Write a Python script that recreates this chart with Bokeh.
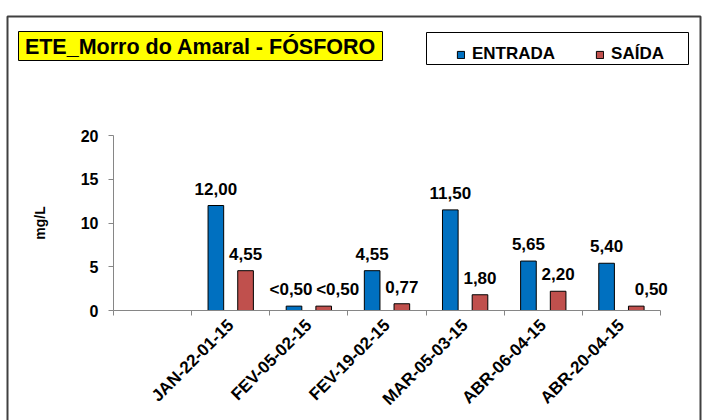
import math
from bokeh.plotting import figure
from bokeh.models import (ColumnDataSource, FixedTicker, Legend, LegendItem, Label,
                          BoxAnnotation, Range1d)
from bokeh.transform import dodge
from bokeh.core.properties import value
from bokeh.embed import file_html
from bokeh.resources import INLINE

# ---------------- data ----------------
categories = ["", "JAN-22-01-15", "FEV-05-02-15", "FEV-19-02-15",
              "MAR-05-03-15", "ABR-06-04-15", "ABR-20-04-15"]
entrada = [float("nan"), 12.00, 0.50, 4.55, 11.50, 5.65, 5.40]
saida = [float("nan"), 4.55, 0.50, 0.77, 1.80, 2.20, 0.50]
entrada_labels = ["", "12,00", "<0,50", "4,55", "11,50", "5,65", "5,40"]
saida_labels = ["", "4,55", "<0,50", "0,77", "1,80", "2,20", "0,50"]
y_ticks = [0, 5, 10, 15, 20]
y_min, y_max = 0, 20
series_names = ["ENTRADA", "SAÍDA"]
title_text = "ETE_Morro do Amaral - FÓSFORO"
y_label = "mg/L"

# ---------------- styles / layout ----------------
FONT = "Liberation Sans"
BLUE = "#0070C0"
RED = "#C0504D"
AXIS_GRAY = "#868686"
W, H = 704, 420
# pixel placement of the plotting area (axes drawn at fixed locations)
PX_LEFT, PX_RIGHT, PX_TOP, PX_BOTTOM = 113, 660, 135, 310
entrada_label_dx = [0, 0, -3, 0, 0, 0, 0]
saida_label_dx = [0, 0, 14, 0, 0, 0, 15]

n = len(categories)
x_lo, x_hi = -0.5, n - 0.5
ppx = (PX_RIGHT - PX_LEFT) / (x_hi - x_lo)
ppy = (PX_BOTTOM - PX_TOP) / (y_max - y_min)
x_range = Range1d(x_lo - PX_LEFT / ppx, x_hi + (W - PX_RIGHT) / ppx)
y_range = Range1d(y_min - (H - PX_BOTTOM) / ppy, y_max + PX_TOP / ppy)

idx = list(range(n))
src = ColumnDataSource(dict(x=idx, entrada=entrada, saida=saida,
                            elab=entrada_labels, slab=saida_labels,
                            edx=entrada_label_dx, sdx=saida_label_dx))

p = figure(width=W, height=H, output_backend="svg", toolbar_location=None,
           x_range=x_range, y_range=y_range, title=None,
           min_border_left=0, min_border_right=0, min_border_top=0,
           min_border_bottom=0)
p.outline_line_color = None
p.grid.visible = False
p.background_fill_color = "white"
p.border_fill_color = "white"

def canvas_box(**kw):
    return BoxAnnotation(left_units="canvas", right_units="canvas",
                         top_units="canvas", bottom_units="canvas", **kw)

# outer chart frame
p.add_layout(canvas_box(left=7, right=700, top=16, bottom=440,
                        fill_color=None, line_color="#404040", line_alpha=1,
                        line_width=2))

# title box
p.add_layout(canvas_box(left=18, right=382, top=31, bottom=60,
                        fill_color="#FFFF00", fill_alpha=1, line_color="black",
                        line_alpha=1, line_width=1))
p.add_layout(Label(x=200, y=46, x_units="canvas", y_units="canvas", text=title_text,
                   text_align="center", text_baseline="middle",
                   text_font=FONT, text_font_style="bold",
                   text_font_size="21.5px", text_color="black"))

# legend box
p.add_layout(canvas_box(left=426, right=688, top=32, bottom=64,
                        fill_color="white", fill_alpha=1, line_color="black",
                        line_alpha=1, line_width=1))

# bars
r1 = p.vbar(x=dodge("x", -0.19), top="entrada", width=0.2, source=src,
            fill_color=BLUE, line_color="black", line_width=1)
r2 = p.vbar(x=dodge("x", 0.19), top="saida", width=0.2, source=src,
            fill_color=RED, line_color="black", line_width=1)

# data labels
for col, lab, dx, off in (("entrada", "elab", "edx", -0.19), ("saida", "slab", "sdx", 0.19)):
    p.text(x=dodge("x", off), y=col, text=lab, x_offset=dx, y_offset=-17, source=src,
           text_align="center", text_baseline="alphabetic",
           text_font=value(FONT), text_font_style="bold", text_font_size="17px",
           text_color="black")

# x axis (drawn at y = 0)
xa = p.xaxis[0]
xa.fixed_location = y_min
xa.bounds = (x_lo, x_hi)
xa.ticker = FixedTicker(ticks=idx[1:], minor_ticks=[i - 0.5 for i in range(n + 1)])
xa.major_label_overrides = {i: categories[i] for i in idx[1:]}
xa.major_label_orientation = math.pi / 4
xa.major_tick_out = 0
xa.major_tick_in = 0
xa.minor_tick_out = 5
xa.minor_tick_in = 0
xa.minor_tick_line_color = AXIS_GRAY
xa.axis_line_color = AXIS_GRAY
xa.major_label_standoff = 7
xa.major_label_text_font = FONT
xa.major_label_text_font_style = "bold"
xa.major_label_text_font_size = "17px"
xa.major_label_text_color = "black"

# y axis (drawn at the left edge of the categories)
ya = p.yaxis[0]
ya.fixed_location = x_lo
ya.bounds = (y_min, y_max)
ya.ticker = FixedTicker(ticks=y_ticks)
ya.major_tick_out = 5
ya.major_tick_in = 0
ya.major_tick_line_color = AXIS_GRAY
ya.minor_tick_line_color = None
ya.axis_line_color = AXIS_GRAY
ya.major_label_standoff = 10
ya.major_label_text_font = FONT
ya.major_label_text_font_style = "bold"
ya.major_label_text_font_size = "16px"
ya.major_label_text_color = "black"
ya.axis_label = y_label
ya.axis_label_text_font = FONT
ya.axis_label_text_font_style = "bold"
ya.axis_label_text_font_size = "14px"
ya.axis_label_text_color = "black"
ya.axis_label_standoff = 30

# legend
legend = Legend(items=[LegendItem(label=series_names[0], renderers=[r1]),
                       LegendItem(label=series_names[1], renderers=[r2])],
                orientation="horizontal", location=(456, 356),
                border_line_color=None, background_fill_alpha=0,
                padding=6, margin=0, glyph_width=9, glyph_height=9,
                label_standoff=7, spacing=40,
                label_text_font=FONT, label_text_font_style="bold",
                label_text_font_size="17px", label_text_color="black")
p.add_layout(legend)

open("out.html", "w").write(file_html(p, INLINE))
